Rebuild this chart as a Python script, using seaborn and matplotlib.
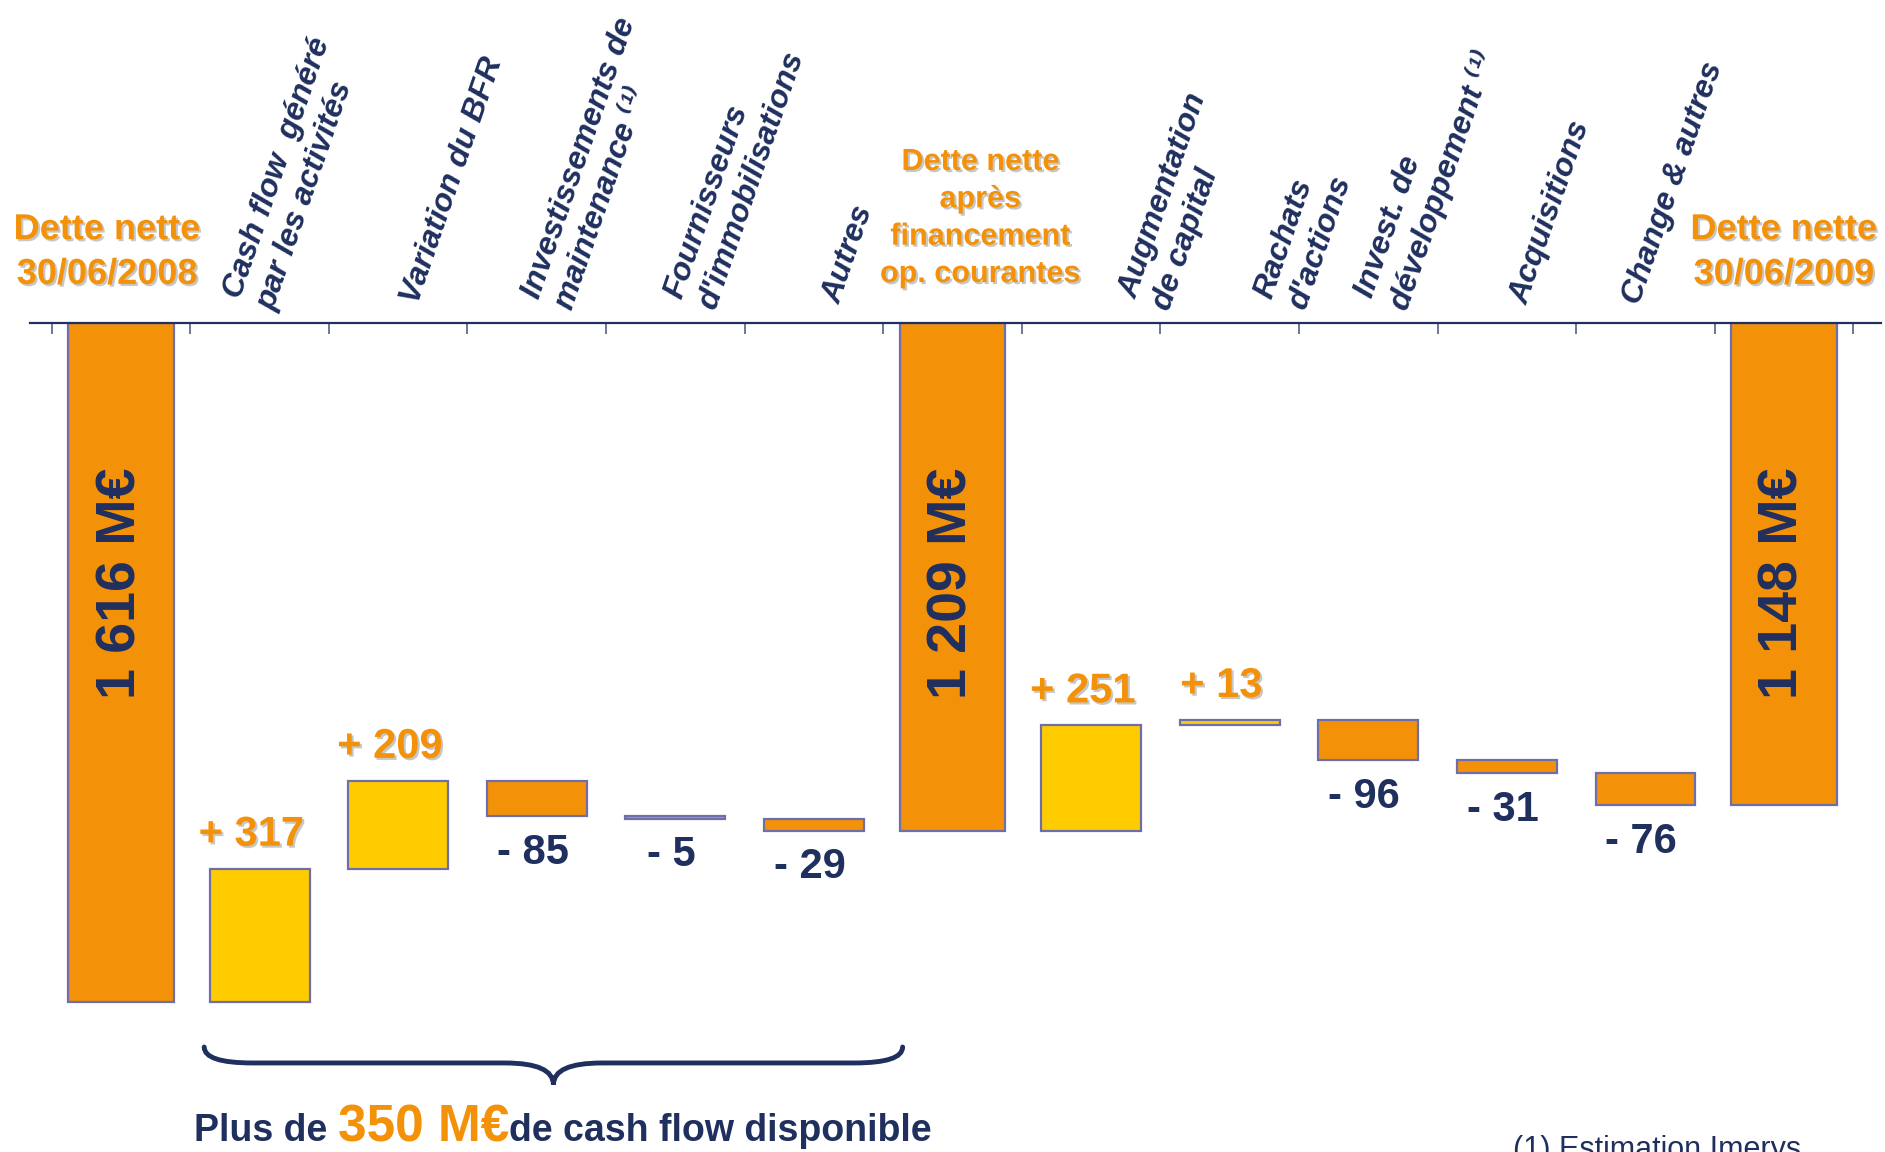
import matplotlib
matplotlib.use("Agg")
import matplotlib.pyplot as plt
import matplotlib.patheffects as pe
from matplotlib.path import Path
from matplotlib.patches import PathPatch
from matplotlib.offsetbox import TextArea, HPacker, AnchoredOffsetbox
import numpy as np
import pandas as pd
import seaborn as sns

# Data (M€, net debt bridge 30/06/2008 -> 30/06/2009)
categories = [
    "Dette nette\n30/06/2008",
    "Cash flow  généré\npar les activités",
    "Variation du BFR",
    "Investissements de\nmaintenance ⁽¹⁾",
    "Fournisseurs\nd'immobilisations",
    "Autres",
    "Dette nette\naprès\nfinancement\nop. courantes",
    "Augmentation\nde capital",
    "Rachats\nd'actions",
    "Invest. de\ndéveloppement ⁽¹⁾",
    "Acquisitions",
    "Change & autres",
    "Dette nette\n30/06/2009",
]
values = [1616, 317, 209, -85, -5, -29, 1209, 251, 13, -96, -31, -76, 1148]
is_total = [True, False, False, False, False, False, True,
            False, False, False, False, False, True]

ORANGE = "#F39208"
YELLOW = "#FFCC00"
NAVY = "#1F2F5E"
EDGE = "#6E6EAA"

# Waterfall: bars hang from the top axis, a positive cash flow lowers the debt
bottoms, heights, colors = [], [], []
level = 0
for v, tot in zip(values, is_total):
    if tot:
        level = v
        bottoms.append(0)
        heights.append(v)
        colors.append(ORANGE)
    else:
        new_level = level - v
        bottoms.append(min(level, new_level))
        heights.append(abs(v))
        colors.append(YELLOW if v > 0 else ORANGE)
        level = new_level

df = pd.DataFrame({"cat": categories, "height": heights})

sns.set_theme(style="white")
plt.rcParams["font.family"] = ["Liberation Sans", "DejaVu Sans"]

fig = plt.figure(figsize=(18.85, 11.52), dpi=100)
ax = fig.add_axes([30 / 1885, 0, 1851 / 1885, 1 - 323 / 1152])

sns.barplot(data=df, x="cat", y="height", order=categories, bottom=bottoms,
            width=0.72, errorbar=None, saturation=1, color=ORANGE,
            edgecolor=EDGE, linewidth=1.6, ax=ax)

for p, c, tot in zip(ax.patches, colors, is_total):
    p.set_facecolor(c)
    if tot:
        p.set_x(p.get_x() - 0.02)
        p.set_width(p.get_width() + 0.04)

n = len(categories)
ax.set_xlim(-0.657, 12.70)
ax.set_ylim(1974, 0)

# axis styling: only the top line with small inward ticks between categories
for s in ["left", "right", "bottom"]:
    ax.spines[s].set_visible(False)
ax.spines["top"].set_color(NAVY)
ax.spines["top"].set_linewidth(1.6)
ax.xaxis.tick_top()
ax.set_xticks(np.arange(n + 1) - 0.5)
ax.set_xticklabels([])
ax.tick_params(axis="x", direction="in", length=8, width=1.2, color="#5A5F85",
               top=True, bottom=False, labeltop=False)
ax.set_yticks([])
ax.set_xlabel("")
ax.set_ylabel("")

shadow = [pe.withSimplePatchShadow(offset=(1.5, -1.5), shadow_rgbFace="#9a9a9a", alpha=0.55)]

# small horizontal nudges of the rotated labels, as placed on the slide
label_dx = [0, -0.07, 0.09, 0.08, 0.11, 0.13, 0, 0.39, 0.37, 0.10, 0.09, -0.10, 0]

# category labels
for i, (lab, tot) in enumerate(zip(categories, is_total)):
    if tot:
        if i == 6:
            ax.text(i + 0.2, -250, lab, ha="center", va="center", fontsize=22,
                    fontweight="bold", color=ORANGE, linespacing=1.32,
                    path_effects=shadow, clip_on=False)
        else:
            dx = -0.1 if i == 0 else 0.0
            ax.text(i + dx, -169, lab, ha="center", va="center", fontsize=26,
                    fontweight="bold", color=ORANGE, linespacing=1.36,
                    path_effects=shadow, clip_on=False)
        ax.text(i, 619, f"{values[i] // 1000} {values[i] % 1000:03d} M€",
                rotation=90, ha="center", va="center", fontsize=40,
                fontweight="bold", color=NAVY)
    else:
        ax.text(i + label_dx[i], -48, lab, rotation=71, rotation_mode="anchor",
                ha="left", va="center", fontsize=23, fontweight="bold",
                style="italic", color=NAVY, linespacing=1.25,
                multialignment="left", clip_on=False)

# value labels for the movements
for i, (v, tot) in enumerate(zip(values, is_total)):
    if tot:
        continue
    top = bottoms[i]
    bot = bottoms[i] + heights[i]
    if v > 0:
        ax.annotate(f"+ {v}", (i, top), xytext=(-6, 10), textcoords="offset points",
                    ha="center", va="bottom", fontsize=30, fontweight="bold",
                    color=ORANGE, path_effects=shadow)
    else:
        ax.annotate(f"- {abs(v)}", (i, bot), xytext=(-3, -12), textcoords="offset points",
                    ha="center", va="top", fontsize=30, fontweight="bold", color=NAVY)

# brace under the operating cash flow items
x0, x1 = 0.60, 5.64
xc = (x0 + x1) / 2
yt, ym, yb = 1724, 1762, 1814
verts = [(x0, yt), (x0, ym), (x0 + 0.35, ym), (xc - 0.35, ym), (xc, ym), (xc, yb),
         (xc, ym), (xc + 0.35, ym), (x1 - 0.35, ym), (x1, ym), (x1, yt)]
codes = [Path.MOVETO, Path.CURVE3, Path.CURVE3, Path.LINETO, Path.CURVE3, Path.CURVE3,
         Path.CURVE3, Path.CURVE3, Path.LINETO, Path.CURVE3, Path.CURVE3]
ax.add_patch(PathPatch(Path(verts, codes), fill=False, lw=3.5, edgecolor=NAVY,
                       capstyle="round", clip_on=False))

# bottom caption
parts = [
    TextArea("Plus de ", textprops=dict(fontsize=27, fontweight="bold", color=NAVY)),
    TextArea("350 M€", textprops=dict(fontsize=37, fontweight="bold", color=ORANGE)),
    TextArea("de cash flow disponible", textprops=dict(fontsize=27, fontweight="bold", color=NAVY)),
]
box = HPacker(children=parts, align="baseline", pad=0, sep=0)
anchored = AnchoredOffsetbox(loc="lower left", child=box, pad=0, borderpad=0, frameon=False,
                             bbox_to_anchor=(194 / 1885, 0),
                             bbox_transform=fig.transFigure)
fig.add_artist(anchored)

fig.text(1513 / 1885, -6 / 1152, "(1) Estimation Imerys", fontsize=22, color=NAVY,
         va="baseline", ha="left")

fig.savefig("out.png", dpi=100)
